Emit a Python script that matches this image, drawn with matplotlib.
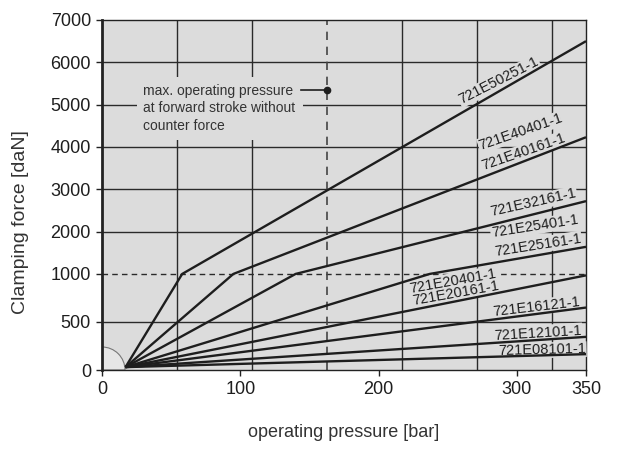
import numpy as np
import matplotlib
matplotlib.use("Agg")
import matplotlib.pyplot as plt
from matplotlib.patches import Wedge
from matplotlib.transforms import ScaledTranslation

# curve data: pressure [bar] -> clamping force [daN]
curve_names = ["721E50251-1", "721E40401-1", "721E32161-1", "721E25401-1",
               "721E20401-1", "721E16121-1", "721E12101-1", "721E08101-1"]
curve_x = [[17, 58, 350], [17, 95, 350], [17, 140, 350], [17, 237, 350],
           [17, 350], [17, 350], [17, 350], [17, 350]]
curve_y = [[30, 1000, 6500], [30, 1000, 4230], [30, 1000, 2720], [30, 1000, 1640],
           [30, 985], [30, 650], [30, 345], [30, 165]]

# which curve each label belongs to
label_texts = ["721E50251-1", "721E40401-1", "721E40161-1", "721E32161-1",
               "721E25401-1", "721E25161-1", "721E20401-1", "721E20161-1",
               "721E16121-1", "721E12101-1", "721E08101-1"]
label_curve = [0, 1, 1, 2, 3, 3, 4, 4, 5, 6, 7]
label_pos = [(287, 5560), (303, 4350), (305, 3880), (312, 2680),
             (313, 2120), (315, 1680), (254, 928), (256, 795),
             (314, 655), (315, 385), (318, 205)]

x_ticks = [0, 100, 200, 300, 350]
y_ticks = [0, 500, 1000, 2000, 3000, 4000, 5000, 6000, 7000]
grid_step = 54.2          # spacing of the drawn vertical grid (bar)
max_pressure = 162.7      # dashed line

bg = "#dcdcdc"
ink = "#1e1e1e"
narrow = ["Liberation Sans Narrow", "Liberation Sans", "DejaVu Sans"]
plain = ["Liberation Sans", "DejaVu Sans"]

# y axis: 0..1000 stretched, above 1000 linear
K = 2.27
def fwd(y):
    y = np.asarray(y, dtype=float)
    return np.where(y <= 1000, y * K, 1000 * K + (y - 1000))

def inv(u):
    u = np.asarray(u, dtype=float)
    return np.where(u <= 1000 * K, u / K, u - 1000 * K + 1000)

fig = plt.figure(figsize=(6.43, 4.69), dpi=100)
ax = fig.add_axes([102 / 643, 99 / 469, 484 / 643, 350 / 469])
ax.set_facecolor(bg)
ax.set_yscale("function", functions=(fwd, inv))
ax.set_xlim(0, 350)
ax.set_ylim(0, 7000)

# grid
for y in [500, 2000, 3000, 4000, 5000, 6000]:
    ax.axhline(y, color="#2a2a2a", lw=1.0, zorder=1)
ax.axhline(1000, color="#2a2a2a", lw=1.0, ls=(0, (4, 3)), zorder=1)
for k in [1, 2, 4, 5, 6]:
    ax.axvline(k * grid_step, color="#2a2a2a", lw=1.0, zorder=1)
ax.axvline(max_pressure, color="#444444", lw=1.2, ls=(0, (5, 4)), zorder=1)

# quarter circle at origin
trans = fig.dpi_scale_trans + ScaledTranslation(0, 0, ax.transData)
ax.add_patch(Wedge((0, 0), 0.23, 0, 90, transform=trans, facecolor="#e6e6e6",
                   edgecolor="#777777", lw=0.8, zorder=2))

for xs, ys in zip(curve_x, curve_y):
    ax.plot(xs, ys, color=ink, lw=1.7, zorder=4, solid_capstyle="butt")

def screen_angle(ci, x):
    xs, ys = curve_x[ci], curve_y[ci]
    x0, x1 = x - 5, x + 5
    p = ax.transData.transform([(x0, np.interp(x0, xs, ys)), (x1, np.interp(x1, xs, ys))])
    return np.degrees(np.arctan2(p[1, 1] - p[0, 1], p[1, 0] - p[0, 0]))

for txt, ci, (lx, ly) in zip(label_texts, label_curve, label_pos):
    ax.text(lx, ly, txt, ha="center", va="center", fontsize=10.5, family=plain,
            color=ink, rotation=screen_angle(ci, lx) * 0.9, rotation_mode="anchor",
            bbox=dict(facecolor=bg, edgecolor="none", pad=0.6), zorder=3)

# annotation
ax.text(30, 4910, "max. operating pressure\nat forward stroke without\ncounter force",
        ha="left", va="center", fontsize=10, family=narrow, color="#333333",
        linespacing=1.35, bbox=dict(facecolor=bg, edgecolor="none", pad=5), zorder=3)
ax.plot([144, max_pressure], [5342, 5342], color=ink, lw=1.2, zorder=4)
ax.plot([max_pressure], [5342], "o", color=ink, ms=4.5, zorder=4)

# axes styling
for s in ["top", "right", "bottom"]:
    ax.spines[s].set_color("#222222")
    ax.spines[s].set_linewidth(1.0)
ax.spines["left"].set_color("#222222")
ax.spines["left"].set_linewidth(2.0)
ax.set_xticks(x_ticks)
ax.set_xticklabels([str(v) for v in x_ticks])
ax.set_yticks(y_ticks)
ax.set_yticklabels([str(v) for v in y_ticks])
ax.minorticks_off()
ax.tick_params(axis="both", direction="out", length=4, width=1.0, color="#222222",
               labelsize=13, labelcolor=ink)
ax.tick_params(axis="x", pad=4)
ax.tick_params(axis="y", pad=4)
for lab in ax.get_xticklabels() + ax.get_yticklabels():
    lab.set_family(plain)

fig.text(21 / 643, 1 - 222 / 469, "Clamping force [daN]", rotation=90, ha="center",
         va="center", fontsize=14, family=narrow, color="#333333")
fig.text(344 / 643, 1 - 432 / 469, "operating pressure [bar]", ha="center",
         va="center", fontsize=13, family=narrow, color="#333333")

fig.savefig("out.png", dpi=100, facecolor="white")
